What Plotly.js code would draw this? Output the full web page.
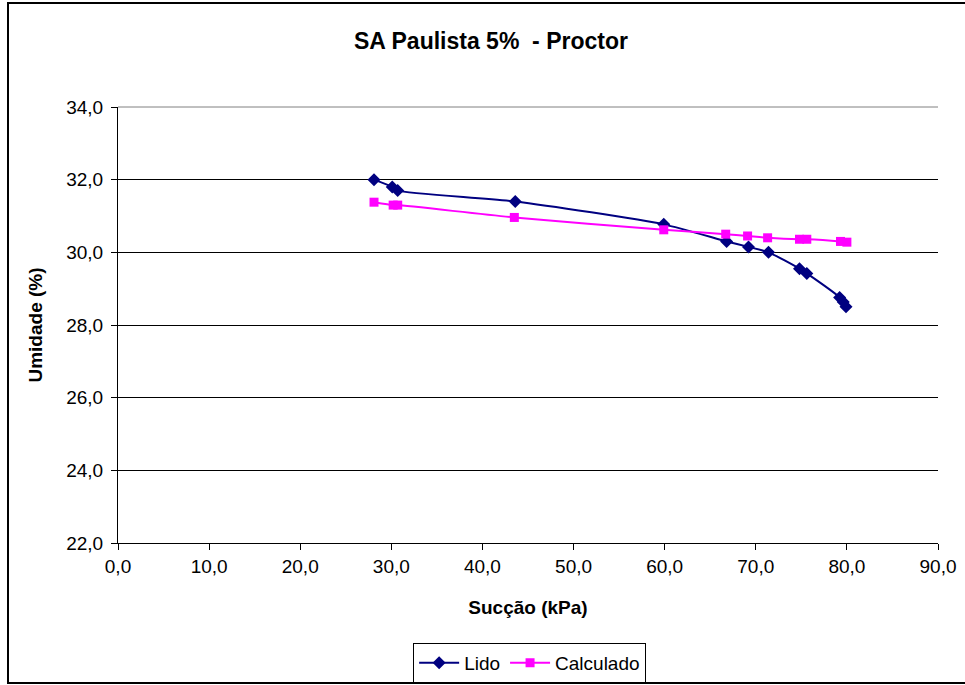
<!DOCTYPE html>
<html>
<head>
<meta charset="utf-8">
<script src="https://cdn.plot.ly/plotly-3.0.1.min.js"></script>
<style>
html,body{margin:0;padding:0;background:#fff;}
#chart{width:965px;height:685px;}
</style>
</head>
<body>
<div id="chart"></div>
<script>
const lidoX = [28.1, 30.1, 30.7, 43.6, 59.9, 66.8, 69.2, 71.4, 74.8, 75.6, 79.2, 79.6, 79.9];
const lidoY = [32.0, 31.8, 31.7, 31.4, 30.77, 30.3, 30.15, 30.0, 29.55, 29.42, 28.76, 28.63, 28.5];
const calcX = [28.1, 30.2, 30.7, 43.5, 59.9, 66.7, 69.1, 71.3, 74.8, 75.6, 79.3, 80.0];
const calcY = [31.38, 31.3, 31.3, 30.96, 30.62, 30.5, 30.45, 30.4, 30.36, 30.36, 30.3, 30.28];
const yTicks = [22, 24, 26, 28, 30, 32, 34];
const xTicks = [0, 10, 20, 30, 40, 50, 60, 70, 80, 90];

const font = 'Liberation Sans, Arial, sans-serif';

const traces = [
  {x: lidoX, y: lidoY, name: 'Lido', type: 'scatter', mode: 'lines+markers',
   line: {color: '#000080', width: 2, shape: 'spline', smoothing: 0.6},
   marker: {symbol: 'diamond', size: 10, color: '#000080'}},
  {x: calcX, y: calcY, name: 'Calculado', type: 'scatter', mode: 'lines+markers',
   line: {color: '#FF00FF', width: 2, shape: 'spline', smoothing: 0.6},
   marker: {symbol: 'square', size: 9, color: '#FF00FF'}}
];

const layout = {
  width: 965, height: 685,
  margin: {l: 118, r: 27, t: 107, b: 142, autoexpand: false},
  paper_bgcolor: '#fff', plot_bgcolor: '#fff',
  separators: ',.',
  font: {family: font, size: 19, color: '#000'},
  title: {text: '<b>SA Paulista 5%  - Proctor</b>', font: {family: font, size: 23, color: '#000'},
          x: 491/965, xref: 'container', xanchor: 'center', y: 1 - 41/685, yref: 'container', yanchor: 'middle'},
  xaxis: {range: [0, 90], tickvals: xTicks, tickformat: '.1f', showgrid: false, zeroline: false, automargin: false,
          showline: true, linecolor: '#000', linewidth: 1, ticks: 'outside', ticklen: 6, tickcolor: '#000',
          title: {text: '<b>Sucção (kPa)</b>', font: {family: font, size: 19}, standoff: 24},
          tickfont: {family: font, size: 19}},
  yaxis: {range: [22, 34], tickvals: yTicks, tickformat: '.1f', showgrid: true, gridcolor: '#000', gridwidth: 1,
          zeroline: false, showline: true, linecolor: '#000', linewidth: 1, ticks: 'outside', ticklen: 6, tickcolor: '#000',
          automargin: false, ticklabelstandoff: 4,
          title: {text: '<b>Umidade (%)</b>', font: {family: font, size: 19}, standoff: 18},
          tickfont: {family: font, size: 19}},
  showlegend: true,
  legend: {orientation: 'h', x: 0.502, xanchor: 'center', y: -(643 - 543) / 436, yanchor: 'top',
           bordercolor: '#000', borderwidth: 1, bgcolor: '#fff', font: {family: font, size: 19},
           itemwidth: 40, tracegroupgap: 0},
  shapes: [
    {type: 'rect', xref: 'paper', yref: 'paper', x0: (8 - 118) / 820, x1: (975 - 118) / 820,
     y0: -(683 - 543) / 436, y1: 1 + (107 - 3) / 436, line: {color: '#000', width: 2}, fillcolor: 'rgba(0,0,0,0)', layer: 'below'},
    {type: 'line', xref: 'paper', yref: 'paper', x0: 0, x1: 1, y0: 1, y1: 1,
     line: {color: '#808080', width: 1}, layer: 'below'}
  ]
};

Plotly.newPlot('chart', traces, layout, {displayModeBar: false, staticPlot: true});
</script>
</body>
</html>
